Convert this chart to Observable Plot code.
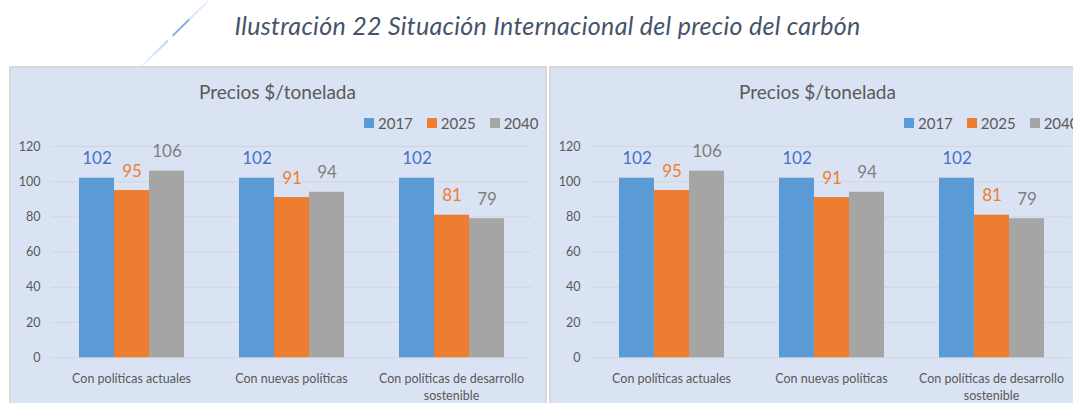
<!DOCTYPE html>
<html>
<head>
<meta charset="utf-8">
<script src="https://cdn.jsdelivr.net/npm/d3@7"></script>
<script src="https://cdn.jsdelivr.net/npm/@observablehq/plot@0.6"></script>
<style>
  html, body { margin: 0; padding: 0; background: #ffffff; }
  body { width: 1073px; height: 403px; overflow: hidden; position: relative; font-family: Lato, "Open Sans", sans-serif; }
  #title { position: absolute; left: 0; width: 1095px; top: 10px; text-align: center; font-style: italic; font-size: 25px; letter-spacing: 0.3px; color: #44546a; white-space: nowrap; }
  #deco { position: absolute; left: 142px; top: 65px; width: 93px; height: 2px; transform-origin: 0 50%; transform: rotate(-44.6deg);
          background: linear-gradient(to right, rgba(157,195,230,0.15), rgba(157,195,230,0.7) 38%, rgba(255,255,255,0) 40%, rgba(255,255,255,0) 45%, rgba(120,170,225,0.9) 47%, rgba(120,170,225,0.9) 70%, rgba(157,195,230,0.4) 72%, rgba(157,195,230,0.2)); }
  .panel { position: absolute; top: 66px; width: 538px; height: 345px; background: #dae3f3; box-shadow: inset 0 0 0 2px #d9d9d9; overflow: hidden; }
  .ctitle { position: absolute; left: 0; width: 537px; top: 14px; text-align: center; font-size: 19px; color: #595959; white-space: nowrap; }
  .legend { position: absolute; left: 355px; top: 48px; display: flex; align-items: center; font-size: 15px; color: #595959; white-space: nowrap; }
  .legend .item { display: flex; align-items: center; margin-right: 14px; }
  .legend .sw { width: 10px; height: 10px; margin-right: 4px; }
  .panel svg { position: absolute; left: 0; top: 0; }
</style>
</head>
<body>
<div id="title">Ilustración 22 Situación Internacional del precio del carbón</div>
<div id="deco"></div>
<script>
const chartTitle = "Precios $/tonelada";
const categories = ["Con políticas actuales", "Con nuevas políticas", "Con políticas de desarrollo sostenible"];
const categoryLabels = ["Con políticas actuales", "Con nuevas políticas", "Con políticas de desarrollo\nsostenible"];
const years = ["2017", "2025", "2040"];
const values2017 = [102, 102, 102];
const values2025 = [95, 91, 81];
const values2040 = [106, 94, 79];
const yTicks = [0, 20, 40, 60, 80, 100, 120];
const barColors = ["#5b9bd5", "#ed7d31", "#a5a5a5"];
const labelColors = ["#4472c4", "#ed7d31", "#7f7f7f"];
const panelLefts = [9, 549];

const seriesValues = [values2017, values2025, values2040];
const data = [];
categories.forEach((c, i) => years.forEach((y, j) => data.push({cat: c, year: y, value: seriesValues[j][i]})));

function makePanel(left) {
  const panel = document.createElement("div");
  panel.className = "panel";
  panel.style.left = left + "px";

  const chart = Plot.plot({
    width: 537,
    height: 337,
    marginLeft: 41,
    marginRight: 15,
    marginTop: 80,
    marginBottom: 45.7,
    style: {background: "transparent", fontFamily: "Lato, 'Open Sans', sans-serif", overflow: "visible"},
    fx: {domain: categories, padding: 0, label: null, axis: null},
    x: {domain: years, paddingInner: 0, paddingOuter: 0.765, axis: null},
    y: {domain: [0, 120], label: null, axis: null},
    color: {domain: years, range: barColors},
    marks: [
      Plot.gridY(yTicks, {stroke: "#d3d6dc", strokeOpacity: 1, strokeWidth: 1}),
      Plot.axisY(yTicks, {tickSize: 0, tickPadding: 11, fontSize: 12.5, fill: "#595959", label: null}),
      Plot.barY(data, {fx: "cat", x: "year", y: "value", fill: "year"}),
      ...years.map((yr, j) => Plot.text(data.filter(d => d.year === yr), {
        fx: "cat", x: "year", y: "value", text: d => String(d.value),
        fill: labelColors[j], fontSize: 17, lineAnchor: "bottom", dy: -14
      })),
      Plot.axisFx({anchor: "bottom", tickSize: 0, tickPadding: 14, fontSize: 12.5, fill: "#595959", lineHeight: 1.3,
        tickFormat: d => categoryLabels[categories.indexOf(d)], label: null})
    ]
  });
  panel.appendChild(chart);

  const t = document.createElement("div");
  t.className = "ctitle";
  t.textContent = chartTitle;
  panel.appendChild(t);

  const lg = document.createElement("div");
  lg.className = "legend";
  years.forEach((y, j) => {
    const it = document.createElement("div");
    it.className = "item";
    const sw = document.createElement("span");
    sw.className = "sw";
    sw.style.background = barColors[j];
    const tx = document.createElement("span");
    tx.textContent = y;
    it.appendChild(sw);
    it.appendChild(tx);
    lg.appendChild(it);
  });
  panel.appendChild(lg);
  document.body.appendChild(panel);
}

panelLefts.forEach(makePanel);
</script>
</body>
</html>
